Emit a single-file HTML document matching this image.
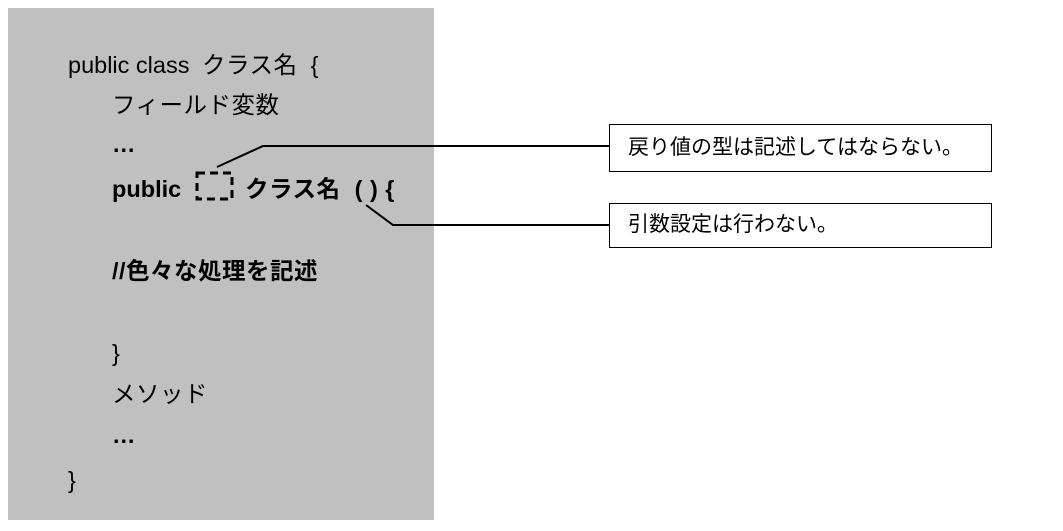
<!DOCTYPE html>
<html><head><meta charset="utf-8"><style>
body{margin:0;width:1063px;height:531px;background:#fff;position:relative;overflow:hidden;font-family:"Liberation Sans","Noto Sans CJK JP",sans-serif;}
.p{position:absolute;left:8px;top:8px;width:426px;height:512px;background:#c0c0c0;}
.t{position:absolute;font-size:23.5px;line-height:26px;color:#000;white-space:nowrap;}
.j{letter-spacing:0.5px;}
.b{font-weight:bold;}
.box{position:absolute;border:1px solid #000;background:#fff;font-size:21px;line-height:24px;padding-left:18px;box-sizing:border-box;white-space:nowrap;}
</style></head><body>
<div class="p"></div>
<div class="t" style="left:68px;top:52px">public class <span class="j" style="margin-left:6px">クラス名</span> &nbsp;{</div>
<div class="t j" style="left:112px;top:92px">フィールド変数</div>
<div class="t b" style="left:112px;top:131px">…</div>
<div class="t b" style="left:112px;top:176px">public</div>
<div class="t b j" style="left:245px;top:176px">クラス名 &nbsp;( ) {</div>
<div class="t b j" style="left:112px;top:258px">//色々な処理を記述</div>
<div class="t" style="left:112px;top:340px">}</div>
<div class="t j" style="left:112px;top:381px">メソッド</div>
<div class="t b" style="left:112px;top:422px">…</div>
<div class="t" style="left:68px;top:467px">}</div>
<svg width="1063" height="531" style="position:absolute;left:0;top:0">
<rect x="197" y="173" width="35" height="26" fill="none" stroke="#000" stroke-width="3" stroke-dasharray="8,5"/>
<polyline points="217,167 263,146 609,146" fill="none" stroke="#000" stroke-width="2"/>
<polyline points="366,205 393,225 609,225" fill="none" stroke="#000" stroke-width="2"/>
</svg>
<div class="box" style="left:609px;top:124px;width:383px;height:48px;padding-top:11px">戻り値の型は記述してはならない。</div>
<div class="box" style="left:609px;top:203px;width:383px;height:45px;padding-top:9px">引数設定は行わない。</div>
</body></html>
